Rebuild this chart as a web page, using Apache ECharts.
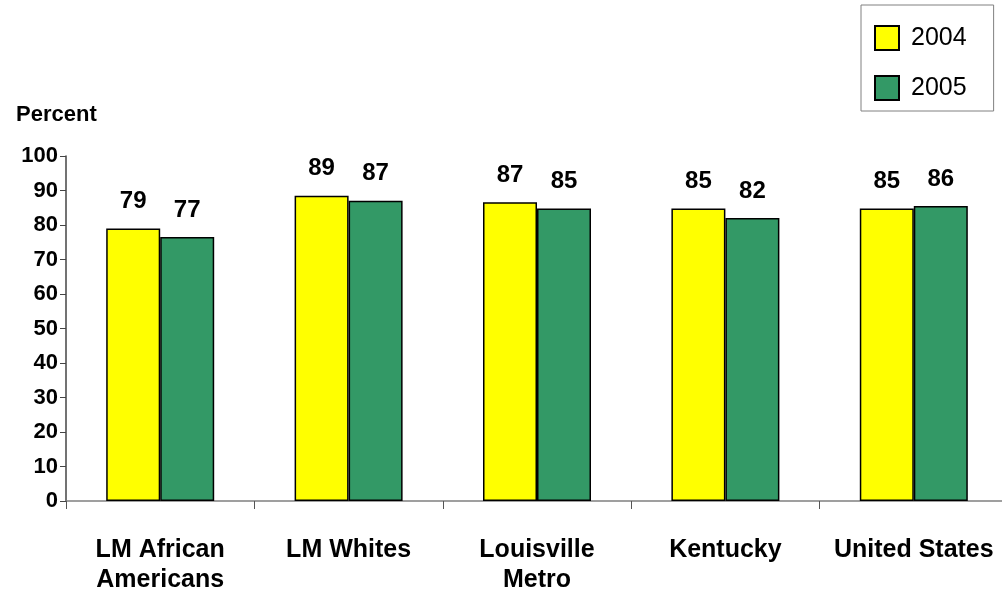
<!DOCTYPE html>
<html>
<head>
<meta charset="utf-8">
<script src="https://cdn.jsdelivr.net/npm/echarts@6/dist/echarts.min.js"></script>
<style>
  html, body { margin: 0; padding: 0; background: #fff; }
  #chart { width: 1002px; height: 590px; }
</style>
</head>
<body>
<div id="chart"></div>
<script>
// 数据
const categories = ['LM African\nAmericans', 'LM Whites', 'Louisville\nMetro', 'Kentucky', 'United States'];
const years = ['2004', '2005'];
const values2004 = [79, 88.5, 86.6, 84.8, 84.8];
const values2005 = [76.5, 87, 84.8, 82, 85.5];
const yTicks = [0, 10, 20, 30, 40, 50, 60, 70, 80, 90, 100];

const font = '"Liberation Sans", Arial, sans-serif';

const chart = echarts.init(document.getElementById('chart'));

function barSeries(name, data, color) {
    return {
        name: name,
        type: 'bar',
        data: data,
        barWidth: 54,
        barGap: '0%',
        itemStyle: { color: color, borderColor: '#000', borderWidth: 1.5 },
        label: {
            show: true,
            position: 'top',
            distance: 15,
            formatter: p => Math.round(p.value),
            fontFamily: font,
            fontWeight: 'bold',
            fontSize: 24,
            color: '#000'
        }
    };
}

const option = {
    animation: false,
    backgroundColor: '#fff',
    title: {
        text: 'Percent',
        left: 11,
        top: 99,
        textStyle: { fontFamily: font, fontWeight: 'bold', fontSize: 22, color: '#000' }
    },
    legend: {
        orient: 'vertical',
        left: 861,
        top: 5,
        padding: [20, 27, 10, 13],
        itemWidth: 24,
        itemHeight: 24,
        itemGap: 24,
        icon: 'rect',
        borderColor: '#808080',
        borderWidth: 1,
        data: years,
        textStyle: { fontFamily: font, fontSize: 25, lineHeight: 24, color: '#000', padding: [0, 0, 0, 7] }
    },
    grid: { left: 66, width: 942, top: 156, bottom: 89, outerBoundsMode: 'none', containLabel: false },
    xAxis: {
        type: 'category',
        data: categories,
        axisLine: { lineStyle: { color: '#808080', width: 1.5 } },
        axisTick: { show: true, length: 8, lineStyle: { color: '#555' } },
        axisLabel: {
            interval: 0,
            margin: 34,
            lineHeight: 30,
            fontFamily: font,
            fontWeight: 'bold',
            fontSize: 25,
            color: '#000'
        }
    },
    yAxis: {
        type: 'value',
        min: yTicks[0],
        max: yTicks[yTicks.length - 1],
        interval: 10,
        splitLine: { show: false },
        axisLine: { show: true, lineStyle: { color: '#444', width: 1.5 } },
        axisTick: { show: true, length: 6, lineStyle: { color: '#444' } },
        axisLabel: {
            margin: 8,
            fontFamily: font,
            fontWeight: 'bold',
            fontSize: 22,
            color: '#000'
        }
    },
    series: [
        barSeries(years[0], values2004, '#FFFF00'),
        barSeries(years[1], values2005, '#339966')
    ]
};
chart.setOption(option);
</script>
</body>
</html>
